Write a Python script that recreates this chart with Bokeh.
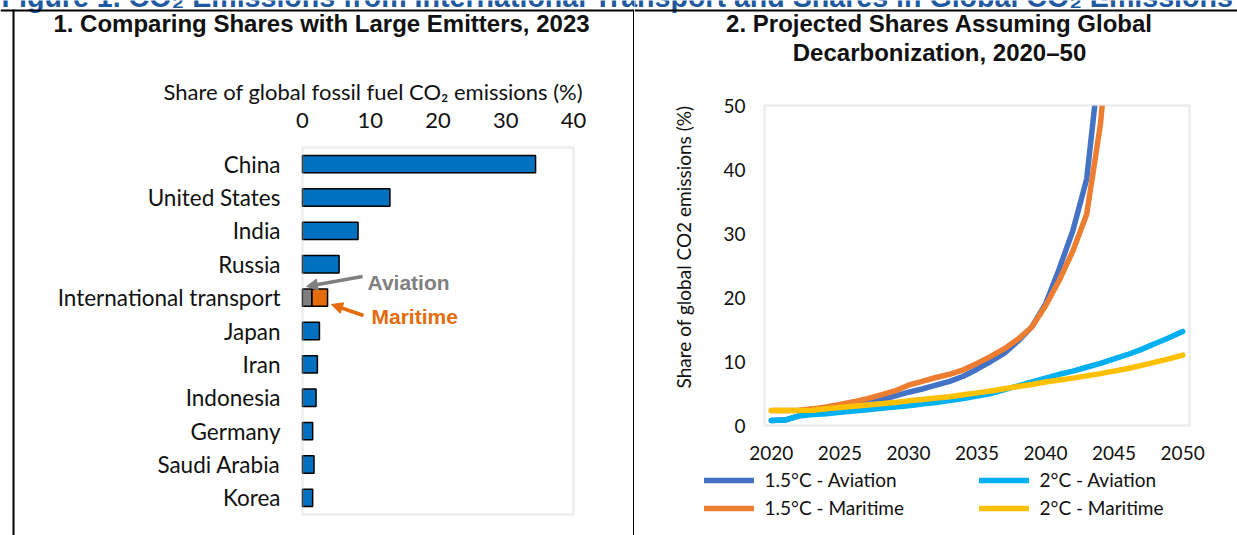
import math

from bokeh.embed import file_html
from bokeh.layouts import row
from bokeh.models import (Arrow, BoxAnnotation, FixedTicker, Label, Legend,
                          LegendItem, NormalHead, Range1d)
from bokeh.plotting import figure
from bokeh.resources import INLINE

# ---------------------------------------------------------------- data
# Panel 1: share of global fossil fuel CO2 emissions, 2023 (%)
countries = ["China", "United States", "India", "Russia", "International transport",
             "Japan", "Iran", "Indonesia", "Germany", "Saudi Arabia", "Korea"]
country_shares = [34.4, 12.9, 8.2, 5.4, None, 2.5, 2.2, 2.0, 1.5, 1.7, 1.5]
aviation_2023 = 1.4
maritime_2023 = 2.3
share_ticks = [0, 10, 20, 30, 40]

# Panel 2: projected shares of global CO2 emissions (%)
years_15 = list(range(2020, 2046))
aviation_15 = [0.8, 0.85, 1.5, 1.9, 2.3, 2.7, 3.1, 3.5, 4.0, 4.6, 5.2, 5.7, 6.3,
               6.9, 7.7, 8.8, 10.0, 11.3, 13.2, 15.4, 19.0, 24.5, 30.5, 38.5, 58.0, 85.0]
maritime_15 = [2.35, 2.35, 2.4, 2.6, 2.9, 3.3, 3.7, 4.2, 4.8, 5.4, 6.3, 6.9, 7.5,
               8.0, 8.7, 9.7, 10.8, 12.0, 13.5, 15.4, 18.7, 22.7, 27.3, 33.0, 47.0, 70.0]
years_2 = list(range(2020, 2051))
aviation_2 = [0.8, 0.85, 1.5, 1.7, 1.85, 2.05, 2.25, 2.45, 2.7, 2.9, 3.1, 3.35, 3.6,
              3.9, 4.2, 4.6, 5.0, 5.6, 6.2, 6.8, 7.4, 8.0, 8.5, 9.1, 9.7, 10.4, 11.1,
              11.9, 12.8, 13.7, 14.7]
maritime_2 = [2.35, 2.35, 2.35, 2.4, 2.6, 2.8, 3.0, 3.2, 3.4, 3.6, 3.85, 4.05, 4.3,
              4.5, 4.8, 5.1, 5.4, 5.75, 6.1, 6.4, 6.8, 7.1, 7.4, 7.75, 8.1, 8.5, 8.9,
              9.4, 9.9, 10.4, 11.0]
year_ticks = [2020, 2025, 2030, 2035, 2040, 2045, 2050]
pct_ticks = [0, 10, 20, 30, 40, 50]

HEADING = ("Figure 1. CO\u2082 Emissions from International Transport and Shares "
           "in Global CO\u2082 Emissions")

# ---------------------------------------------------------------- styles
TXT = "#111111"
SANS = "Lato"
BOLD = "Liberation Sans"
HEAD_BLUE = "#1F5AA0"
BLUE_BAR = "#0070C0"
GREY = "#7F7F7F"
ORANGE = "#E46C0A"
FRAME = "#C4C4C4"

H = 535
W1, W2 = 634, 603
# plot-area boxes in canvas pixels: left, right, top, bottom
A1 = (302, 573, 147, 514)
A2 = (130, 555, 105, 425)


def span_range(lo, hi, a_lo, a_hi, size):
    """range over the whole canvas so that lo..hi lands on pixels a_lo..a_hi"""
    k = (hi - lo) / (a_hi - a_lo)
    return Range1d(lo - a_lo * k, hi + (size - a_hi) * k)


def add_text(p, cx, cy, text, font=SANS, size="22px", color=TXT, bold=False,
             align="left", angle=0.0):
    """text centred vertically on canvas row cy"""
    p.add_layout(Label(x=cx, y=H - cy, x_units="screen", y_units="screen", text=text,
                       text_font=font, text_font_size=size, text_color=color,
                       text_font_style="bold" if bold else "normal",
                       text_align=align, text_baseline="middle", angle=angle))


def add_rule(p, x0, x1, y0, y1, color="black"):
    p.add_layout(BoxAnnotation(left=x0, right=x1, top=H - y0, bottom=H - y1,
                               left_units="screen", right_units="screen",
                               top_units="screen", bottom_units="screen",
                               fill_color=color, fill_alpha=1.0, line_color=None))


def base_figure(width, x_range, y_range, x_loc):
    p = figure(width=width, height=H, output_backend="svg", toolbar_location=None,
               x_range=x_range, y_range=y_range, x_axis_location=x_loc,
               min_border=0, min_border_left=0, min_border_right=0,
               min_border_top=0, min_border_bottom=0)
    p.title.visible = False
    p.grid.visible = False
    p.outline_line_color = None
    p.background_fill_color = "white"
    p.border_fill_color = "white"
    return p


def style_axis(ax, size, standoff):
    ax.axis_line_color = None
    ax.major_tick_line_color = None
    ax.minor_tick_line_color = None
    ax.major_tick_in = 0
    ax.major_tick_out = 0
    ax.minor_tick_in = 0
    ax.minor_tick_out = 0
    ax.major_label_standoff = standoff
    ax.major_label_text_font = SANS
    ax.major_label_text_font_size = size
    ax.major_label_text_color = TXT


# ---------------------------------------------------------------- panel 1
n = len(countries)
row_pos = {c: n - i for i, c in enumerate(countries)}   # China on top

p1 = base_figure(W1,
                 span_range(0, 40, A1[0], A1[1], W1),
                 span_range(0.5, n + 0.5, H - A1[3], H - A1[2], H),
                 "above")
xa1, ya1 = p1.xaxis[0], p1.yaxis[0]
xa1.fixed_location = n + 0.5
ya1.fixed_location = 0
xa1.ticker = FixedTicker(ticks=share_ticks)
ya1.ticker = FixedTicker(ticks=[row_pos[c] for c in countries])
ya1.major_label_overrides = {row_pos[c]: c for c in countries}
style_axis(xa1, "22px", 20)
style_axis(ya1, "22.5px", 22)

p1.add_layout(BoxAnnotation(left=0, right=40, bottom=0.5, top=n + 0.5,
                            fill_alpha=0, line_color=FRAME, line_width=2.5))

bar_y = [row_pos[c] for c, v in zip(countries, country_shares) if v is not None]
bar_v = [v for v in country_shares if v is not None]
it_y = row_pos["International transport"]
p1.hbar(y=bar_y, right=bar_v, left=0, height=0.52, fill_color=BLUE_BAR,
        line_color="black", line_width=1.5)
p1.hbar(y=[it_y], left=[0], right=[aviation_2023], height=0.52,
        fill_color=GREY, line_color="black", line_width=1.5)
p1.hbar(y=[it_y], left=[aviation_2023], right=[aviation_2023 + maritime_2023],
        height=0.52, fill_color=ORANGE, line_color="black", line_width=1.5)

add_text(p1, 1, -4, HEADING, font=BOLD, size="28.6px", color=HEAD_BLUE, bold=True)
add_text(p1, 321, 23, "1. Comparing Shares with Large Emitters, 2023",
         font=BOLD, size="24px", bold=True, align="center")
add_text(p1, 163, 91, "Share of global fossil fuel CO\u2082 emissions (%)", size="22px")
add_text(p1, 367, 282, "Aviation", font=BOLD, size="21px", color=GREY, bold=True)
add_text(p1, 371, 316, "Maritime", font=BOLD, size="21px", color=ORANGE, bold=True)

for (x0, y0, x1, y1, col) in [(362, 276, 306, 286, GREY), (363, 315, 331, 304, ORANGE)]:
    p1.add_layout(Arrow(x_start=x0, y_start=H - y0, x_end=x1, y_end=H - y1,
                        start_units="screen", end_units="screen",
                        line_color=col, line_width=3.5,
                        end=NormalHead(size=11, fill_color=col, line_color=col)))

add_rule(p1, 0, W1, 9, 11)
add_rule(p1, 12, 14, 9, H)
add_rule(p1, 632.5, W1, 9, H)

# ---------------------------------------------------------------- panel 2
p2 = base_figure(W2,
                 span_range(2019.5, 2050.5, A2[0], A2[1], W2),
                 span_range(0, 50, H - A2[3], H - A2[2], H),
                 "below")
xa2, ya2 = p2.xaxis[0], p2.yaxis[0]
xa2.fixed_location = 0
ya2.fixed_location = 2019.5
xa2.ticker = FixedTicker(ticks=year_ticks)
ya2.ticker = FixedTicker(ticks=pct_ticks)
style_axis(xa2, "19px", 20)
style_axis(ya2, "19px", 19)

lw = 5.5
r_a15 = p2.line(years_15, aviation_15, line_color="#4472C4", line_width=lw,
                line_cap="round", line_join="round")
r_a2 = p2.line(years_2, aviation_2, line_color="#00B0F0", line_width=lw,
               line_cap="round", line_join="round")
r_m15 = p2.line(years_15, maritime_15, line_color="#ED7D31", line_width=lw,
                line_cap="round", line_join="round")
r_m2 = p2.line(years_2, maritime_2, line_color="#FFC000", line_width=lw,
               line_cap="round", line_join="round")

# the plot area ends at 50 %: blank out whatever runs above it
p2.add_layout(BoxAnnotation(left=2019.5 - 1, right=2050.5 + 1, bottom=50,
                            top=p2.y_range.end, fill_color="white", fill_alpha=1.0,
                            line_color=None))
p2.add_layout(BoxAnnotation(left=2019.5, right=2050.5, bottom=0, top=50,
                            fill_alpha=0, line_color=FRAME, line_width=2.5))

for (gx, items) in [(703.5 - 634, [("1.5\u00b0C - Aviation", r_a15), ("1.5\u00b0C - Maritime", r_m15)]),
                    (978.5 - 634, [("2\u00b0C - Aviation", r_a2), ("2\u00b0C - Maritime", r_m2)])]:
    leg = Legend(items=[LegendItem(label=t, renderers=[r]) for t, r in items],
                 location=(gx, H - 519), orientation="vertical",
                 glyph_width=50, glyph_height=20, label_height=20, spacing=5,
                 label_standoff=11, padding=0, margin=0,
                 border_line_color=None, background_fill_alpha=0,
                 label_text_font=SANS, label_text_font_size="19px",
                 label_text_color=TXT)
    p2.add_layout(leg)

add_text(p2, 1 - 634, -4, HEADING, font=BOLD, size="28.6px", color=HEAD_BLUE, bold=True)
add_text(p2, 939 - 634, 23, "2. Projected Shares Assuming Global",
         font=BOLD, size="24px", bold=True, align="center")
add_text(p2, 939 - 634, 52, "Decarbonization, 2020\u201350",
         font=BOLD, size="24px", bold=True, align="center")
add_text(p2, 683 - 634, 246.5, "Share of global CO2 emissions (%)", size="19px",
         align="center", angle=math.pi / 2)

add_rule(p2, 0, W2, 9, 11)

layout = row(p1, p2, spacing=0)
open("out.html", "w").write(file_html(layout, INLINE))
